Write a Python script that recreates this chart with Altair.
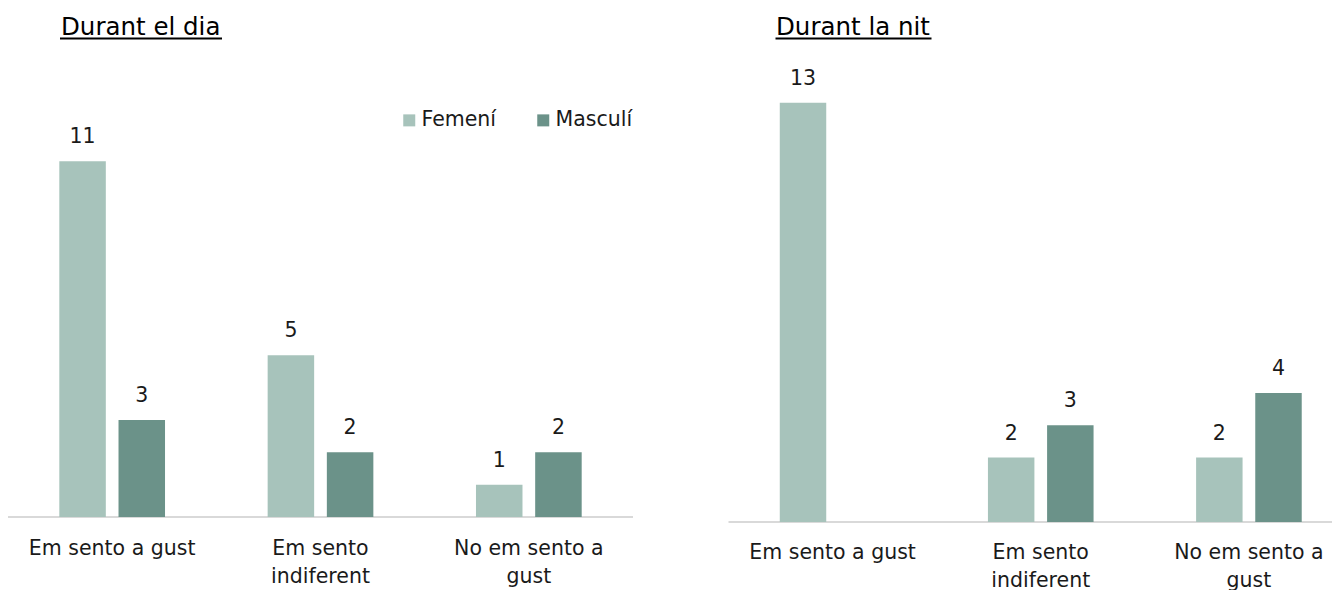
import json
import altair as alt
import pandas as pd

# ---- data ----
CATEGORIES = ["Em sento a gust", "Em sento indiferent", "No em sento a gust"]
LABEL_LINES = [["Em sento a gust"], ["Em sento", "indiferent"], ["No em sento a", "gust"]]
SEXES = ["Femení", "Masculí"]
DIA_FEMENI = [11, 5, 1]
DIA_MASCULI = [3, 2, 2]
NIT_FEMENI = [13, 2, 2]
NIT_MASCULI = [0, 3, 4]
TITLES = ["Durant el dia", "Durant la nit"]
COLORS = ["#a7c3bb", "#6b9289"]

FONT = "DejaVu Sans"
TEXT_COLOR = "#1a1a1a"
W = 1324
H = 590


def make_df(fem, mas):
    rows = []
    for c, f, m in zip(CATEGORIES, fem, mas):
        rows.append({"cat": c, "sexe": SEXES[0], "valor": f})
        rows.append({"cat": c, "sexe": SEXES[1], "valor": m})
    return pd.DataFrame(rows)


LABEL_EXPR = ""
for cat, lines in zip(CATEGORIES, LABEL_LINES):
    LABEL_EXPR += f"datum.value == {json.dumps(cat)} ? {json.dumps(lines)} : "
LABEL_EXPR += "datum.value"

LEGEND = alt.Legend(orient="none", legendX=391, legendY=102, direction="horizontal",
                    title=None, symbolType="square", symbolSize=144,
                    symbolStrokeWidth=0, labelFontSize=20.5, labelFont=FONT,
                    labelColor=TEXT_COLOR, labelOffset=2, columnPadding=36,
                    padding=0)
COLOR = alt.Color("sexe:N", sort=SEXES, scale=alt.Scale(domain=SEXES, range=COLORS),
                  legend=LEGEND)


def panel(df, x0, x1, bottom, ymax, label_pad, line_h):
    x = alt.X(
        "cat:N", sort=CATEGORIES, title=None,
        scale=alt.Scale(domain=CATEGORIES, range=[x0, x1],
                        paddingInner=0.4926, paddingOuter=0.2463),
        axis=alt.Axis(orient="bottom", offset=bottom - H, labelAngle=0, domain=False,
                      ticks=False, tickSize=0, labelPadding=label_pad,
                      labelExpr=LABEL_EXPR, labelFontSize=20.5, labelLineHeight=line_h,
                      labelColor=TEXT_COLOR, labelFont=FONT, grid=False,
                      labelLimit=400),
    )
    xo = alt.XOffset("sexe:N", sort=SEXES,
                     scale=alt.Scale(domain=SEXES, paddingInner=0.2145, paddingOuter=0))
    y = alt.Y("valor:Q", scale=alt.Scale(domain=[0, ymax], range=[bottom, 0],
                                         nice=False, zero=True), axis=None)
    base = alt.Chart(df)
    bars = base.mark_bar().encode(x=x, xOffset=xo, y=y, color=COLOR)
    labels = base.transform_filter("datum.valor > 0").mark_text(
        dy=-18, baseline="alphabetic", fontSize=20.5, font=FONT, color=TEXT_COLOR
    ).encode(x=x, xOffset=xo, y=y, text="valor:Q")
    return alt.layer(bars, labels)


def decorations(title, x_start, x_end, bottom, title_x, title_y, ul_x1, ul_x2, ul_y):
    one = pd.DataFrame({"t": [title]})
    baseline = alt.Chart(one).mark_rule(color="#d9d9d9", strokeWidth=2).encode(
        x=alt.value(x_start), x2=alt.value(x_end), y=alt.value(bottom))
    title_txt = alt.Chart(one).mark_text(
        align="left", baseline="alphabetic", fontSize=24.5, font=FONT, color="#000000"
    ).encode(x=alt.value(title_x), y=alt.value(title_y), text="t:N")
    underline = alt.Chart(one).mark_rule(color="#000000", strokeWidth=2).encode(
        x=alt.value(ul_x1), x2=alt.value(ul_x2), y=alt.value(ul_y))
    return [baseline, title_txt, underline]


left_dec = decorations(TITLES[0], 0, 625, 509, 53, 27, 52, 214, 30.5)
right_dec = decorations(TITLES[1], 720.5, W, 514, 768, 27, 767.5, 923.5, 30.5)

left = panel(make_df(DIA_FEMENI, DIA_MASCULI), 0, 625, 509, 509 / 32.35, 21.5, 28)
right = panel(make_df(NIT_FEMENI, NIT_MASCULI), 720.5, 1345, 514, 514 / 32.25, 20, 28)

chart = alt.layer(*left_dec, *right_dec, left, right).resolve_scale(
    x="independent", y="independent", xOffset="independent"
).properties(
    width=W, height=H,
    autosize=alt.AutoSizeParams(type="none"),
    padding={"left": 0, "top": 0, "right": 0, "bottom": 0},
).configure_view(stroke=None)

chart.save("out.html", embed_options={"renderer": "svg", "actions": False})
